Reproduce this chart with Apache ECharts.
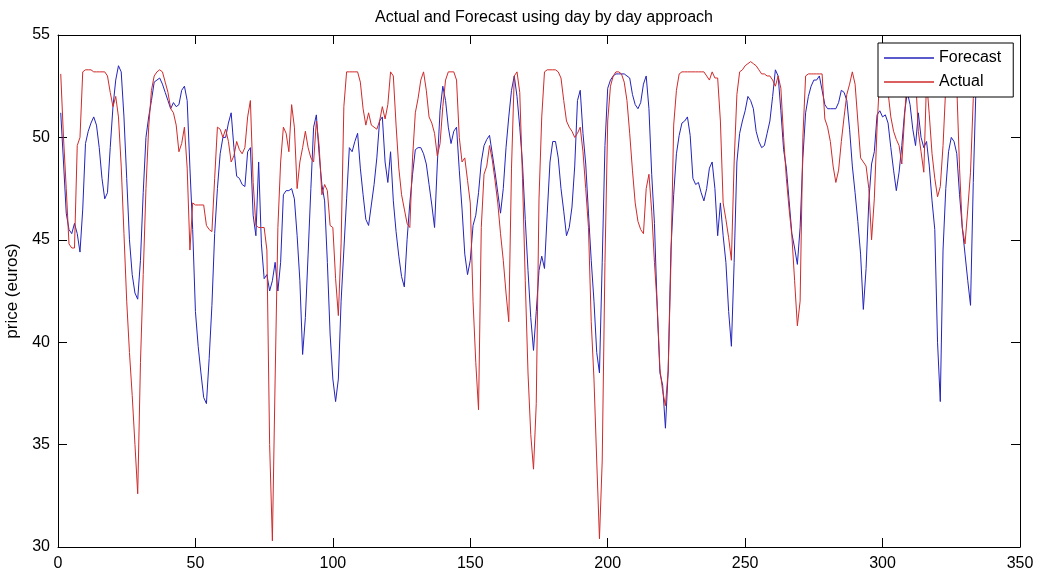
<!DOCTYPE html>
<html>
<head>
<meta charset="utf-8">
<script src="https://cdn.jsdelivr.net/npm/echarts@6/dist/echarts.min.js"></script>
<style>
  html, body { margin: 0; padding: 0; background: #fff; }
  #chart { width: 1042px; height: 579px; }
</style>
</head>
<body>
<div id="chart"></div>
<script>
var forecast = [
  51.2, 48.8, 46.3, 45.5, 45.3, 45.8, 45.3, 44.4, 46.5, 49.7,
  50.3, 50.7, 51.0, 50.6, 49.5, 48.0, 47.0, 47.3, 49.5, 51.5,
  52.8, 53.5, 53.2, 51.0, 48.0, 45.0, 43.3, 42.4, 42.1, 44.0,
  47.3, 50.0, 51.0, 51.8, 52.7, 52.8, 52.9, 52.6, 52.2, 51.8,
  51.4, 51.7, 51.5, 51.6, 52.3, 52.5, 51.8, 48.5, 45.5, 41.5,
  39.8, 38.5, 37.3, 37.0, 39.2, 41.8, 45.3, 47.5, 49.2, 50.0,
  50.0, 50.7, 51.2, 49.5, 48.1, 48.0, 47.7, 47.6, 49.3, 49.5,
  46.2, 45.2, 48.8, 44.8, 43.1, 43.3, 42.5, 43.0, 43.9, 42.5,
  43.9, 47.2, 47.4, 47.4, 47.5, 47.0, 45.2, 43.0, 39.4, 41.2,
  44.3, 47.5, 50.5, 51.1, 49.2, 47.7, 46.9, 43.9, 40.4, 38.2,
  37.1, 38.2, 42.0, 44.5, 47.0, 49.5, 49.3, 49.8, 50.2, 48.5,
  47.2, 46.0, 45.7, 46.7, 47.7, 49.0, 50.8, 51.0, 48.8, 47.8,
  49.3, 46.9, 45.4, 44.2, 43.2, 42.7, 45.0, 46.8, 48.2, 49.4,
  49.5, 49.5, 49.2, 48.7, 47.7, 46.7, 45.6, 48.7, 51.3, 52.5,
  51.8, 50.5, 49.7, 50.3, 50.5, 48.4, 46.5, 44.3, 43.3, 44.0,
  45.7, 46.2, 47.3, 48.8, 49.6, 49.9, 50.1, 49.2, 48.3, 47.3,
  46.3, 47.5, 49.5, 51.0, 52.3, 53.0, 52.0, 50.5, 48.7, 46.0,
  43.5, 41.2, 39.6, 41.5, 43.5, 44.2, 43.6, 46.3, 48.8, 49.8,
  49.8, 49.0, 47.5, 46.4, 45.2, 45.6, 46.6, 48.6, 51.8, 52.3,
  50.2, 48.7, 46.3, 44.0, 42.0, 39.5, 38.5, 43.9, 49.6, 52.4,
  52.8, 53.0, 53.1, 53.1, 53.1, 53.1, 53.0, 52.9, 52.1, 51.6,
  51.4, 51.7, 52.6, 53.0, 51.4, 48.2, 45.8, 41.7, 38.5, 37.9,
  35.8, 38.6, 44.5, 47.2, 49.2, 50.1, 50.7, 50.8, 51.0, 50.1,
  48.0, 47.7, 47.8, 47.3, 46.9, 47.5, 48.5, 48.8, 47.5, 45.2,
  46.8, 45.2, 43.9, 41.5, 39.8, 43.9, 48.8, 50.2, 50.8, 51.3,
  52.0, 51.8, 51.4, 50.3, 49.8, 49.5, 49.6, 50.2, 50.8, 52.0,
  53.3, 53.0, 51.3, 49.4, 48.5, 46.9, 45.3, 44.6, 43.8, 45.6,
  49.0, 51.2, 52.0, 52.5, 52.8, 52.8, 53.0, 52.3, 51.6, 51.4,
  51.4, 51.4, 51.4, 51.7, 52.3, 52.2, 51.8, 50.4, 48.6, 47.3,
  45.9, 44.3, 41.6, 43.6, 46.9, 48.7, 49.3, 51.1, 51.3, 51.0,
  51.1, 50.7, 49.5, 48.4, 47.4, 48.3, 49.6, 51.2, 52.2, 51.6,
  50.4, 49.6, 51.2, 50.0, 49.5, 49.8, 48.6, 46.9, 45.5, 40.0,
  37.1, 44.5, 47.5, 49.3, 50.0, 49.8, 49.2, 47.2, 45.6, 44.3,
  43.0, 41.8, 47.8, 52.5
];

var actual = [
  53.1, 50.0, 47.5, 44.8, 44.6, 44.6, 49.6, 50.0, 53.2, 53.3,
  53.3, 53.3, 53.2, 53.2, 53.2, 53.2, 53.2, 53.0, 52.2, 51.5,
  52.0, 51.0, 48.6, 45.3, 42.0, 39.5, 37.4, 35.0, 32.6, 39.0,
  43.3, 47.5, 50.5, 52.3, 53.0, 53.2, 53.3, 53.2, 52.7, 52.2,
  51.4, 51.2, 50.6, 49.3, 49.7, 50.5, 48.5, 44.5, 46.8, 46.7,
  46.7, 46.7, 46.7, 45.7, 45.5, 45.4, 48.0, 50.5, 50.4, 50.0,
  50.4, 49.8, 48.8, 49.1, 49.8, 49.4, 49.2, 49.5, 51.0, 51.8,
  47.8, 45.7, 45.6, 45.6, 45.6, 44.5, 35.0, 30.3, 38.2, 45.6,
  48.8, 50.5, 50.2, 49.3, 51.6, 50.5, 47.5, 48.8, 49.5, 50.3,
  49.5, 49.0, 48.8, 50.8, 49.6, 47.2, 47.7, 47.4, 45.7, 45.6,
  43.1, 41.3, 44.8, 51.5, 53.2, 53.2, 53.2, 53.2, 53.2, 52.7,
  51.4, 50.6, 51.2, 50.6, 50.5, 50.4, 50.8, 51.5, 50.9, 51.6,
  53.2, 53.0, 50.6, 48.5, 47.2, 46.5, 45.8, 45.6, 49.0, 51.2,
  51.9, 52.8, 53.2, 52.3, 51.0, 50.7, 50.2, 49.1, 49.7, 51.5,
  52.8, 53.2, 53.2, 53.2, 52.8, 50.0, 48.8, 49.0, 47.9, 46.8,
  42.0, 39.0, 36.7, 45.6, 48.2, 48.6, 49.6, 48.9, 47.9, 46.8,
  45.3, 44.0, 42.4, 41.0, 48.5, 53.0, 53.2, 52.2, 48.0, 43.0,
  38.5, 35.5, 33.8, 37.0, 47.0, 51.0, 53.2, 53.3, 53.3, 53.3,
  53.3, 53.2, 52.9, 51.8, 50.8, 50.5, 50.3, 50.0, 50.2, 50.5,
  49.3, 47.5, 45.6, 41.0, 38.2, 34.2, 30.4, 34.2, 43.9, 50.8,
  52.5, 53.0, 53.2, 53.2, 53.1, 52.7, 51.8, 50.2, 48.4, 46.8,
  45.9, 45.5, 45.3, 47.5, 48.2, 46.4, 43.9, 41.8, 38.7, 37.6,
  36.9, 38.6, 43.9, 50.6, 52.3, 53.1, 53.2, 53.2, 53.2, 53.2,
  53.2, 53.2, 53.2, 53.2, 53.2, 53.0, 52.8, 53.2, 52.9, 52.9,
  50.8, 46.8, 46.0, 45.1, 44.0, 48.8, 52.1, 53.2, 53.3, 53.5,
  53.6, 53.7, 53.6, 53.5, 53.3, 53.1, 53.1, 53.0, 53.0, 52.8,
  52.5, 53.0, 52.4, 50.0, 48.0, 46.5, 45.2, 43.0, 40.8, 42.0,
  50.0, 53.0, 53.1, 53.1, 53.1, 53.1, 53.1, 53.1, 50.9, 50.5,
  49.8, 48.6, 47.8, 48.4, 49.8, 51.0, 52.1, 52.6, 53.2, 52.6,
  50.8, 49.0, 48.8, 48.6, 47.5, 45.0, 47.0, 50.5, 53.1, 53.1,
  53.1, 52.2, 51.0, 50.3, 49.9, 49.6, 48.7, 51.0, 53.0, 53.1,
  53.1, 53.0, 50.3, 49.3, 48.3, 52.8, 51.1, 49.2, 48.0, 47.1,
  47.6, 49.6, 52.5, 53.1, 53.1, 53.1, 52.5, 48.5, 45.6, 44.8,
  46.5, 48.3, 51.9, 52.5
];

var xTicks = { min: 0, max: 350, step: 50 };
var yTicks = { min: 30, max: 55, step: 5 };

function pairs(values) {
  var out = [];
  for (var i = 0; i < values.length; i++) {
    out.push([i + 1, values[i]]);
  }
  return out;
}

var dom = document.getElementById('chart');
var chart = echarts.init(dom, null, { renderer: 'canvas' });

var font = 'Liberation Sans, Arial, Helvetica, sans-serif';
var axisLine = { show: true, onZero: false, lineStyle: { color: '#000', width: 1 } };
var axisTick = { show: true, inside: true, length: 9, lineStyle: { color: '#000', width: 1 } };

var option = {
  animation: false,
  backgroundColor: '#fff',
  title: {
    text: 'Actual and Forecast using day by day approach',
    left: 539,
    textAlign: 'center',
    top: 5,
    textStyle: { fontFamily: font, fontSize: 16, fontWeight: 'normal', color: '#000' }
  },
  legend: {
    data: ['Forecast', 'Actual'],
    orient: 'vertical',
    left: 878,
    top: 43,
    icon: 'rect',
    itemWidth: 50,
    itemHeight: 1.5,
    itemGap: 6,
    padding: [6, 12, 6, 6],
    backgroundColor: '#fff',
    borderColor: '#000',
    borderWidth: 1,
    borderRadius: 0,
    textStyle: { fontFamily: font, fontSize: 16, color: '#000', lineHeight: 18 }
  },
  grid: {
    left: 58, right: 22, top: 35, bottom: 32,
    containLabel: false,
    outerBoundsMode: 'none'
  },
  xAxis: [
    {
      type: 'value',
      min: xTicks.min, max: xTicks.max, interval: xTicks.step,
      axisLine: axisLine, axisTick: axisTick,
      splitLine: { show: false },
      axisLabel: { color: '#000', fontFamily: font, fontSize: 16, margin: 9 }
    },
    {
      type: 'value', position: 'top',
      min: xTicks.min, max: xTicks.max, interval: xTicks.step,
      axisLine: axisLine, axisTick: axisTick,
      splitLine: { show: false }, axisLabel: { show: false }
    }
  ],
  yAxis: [
    {
      type: 'value',
      min: yTicks.min, max: yTicks.max, interval: yTicks.step,
      name: 'price (euros)',
      nameLocation: 'middle',
      nameGap: 27,
      nameTextStyle: { fontFamily: font, fontSize: 17, color: '#000' },
      axisLine: axisLine, axisTick: axisTick,
      splitLine: { show: false },
      axisLabel: { color: '#000', fontFamily: font, fontSize: 16, margin: 8 }
    },
    {
      type: 'value', position: 'right',
      min: yTicks.min, max: yTicks.max, interval: yTicks.step,
      axisLine: axisLine, axisTick: axisTick,
      splitLine: { show: false }, axisLabel: { show: false }
    }
  ],
  series: [
    {
      name: 'Forecast',
      type: 'line',
      data: pairs(forecast),
      symbol: 'none',
      lineStyle: { color: '#2323bd', width: 1 },
      itemStyle: { color: '#2323bd' }
    },
    {
      name: 'Actual',
      type: 'line',
      data: pairs(actual),
      symbol: 'none',
      lineStyle: { color: '#d02a2a', width: 1 },
      itemStyle: { color: '#d02a2a' }
    }
  ]
};

chart.setOption(option);
</script>
</body>
</html>
